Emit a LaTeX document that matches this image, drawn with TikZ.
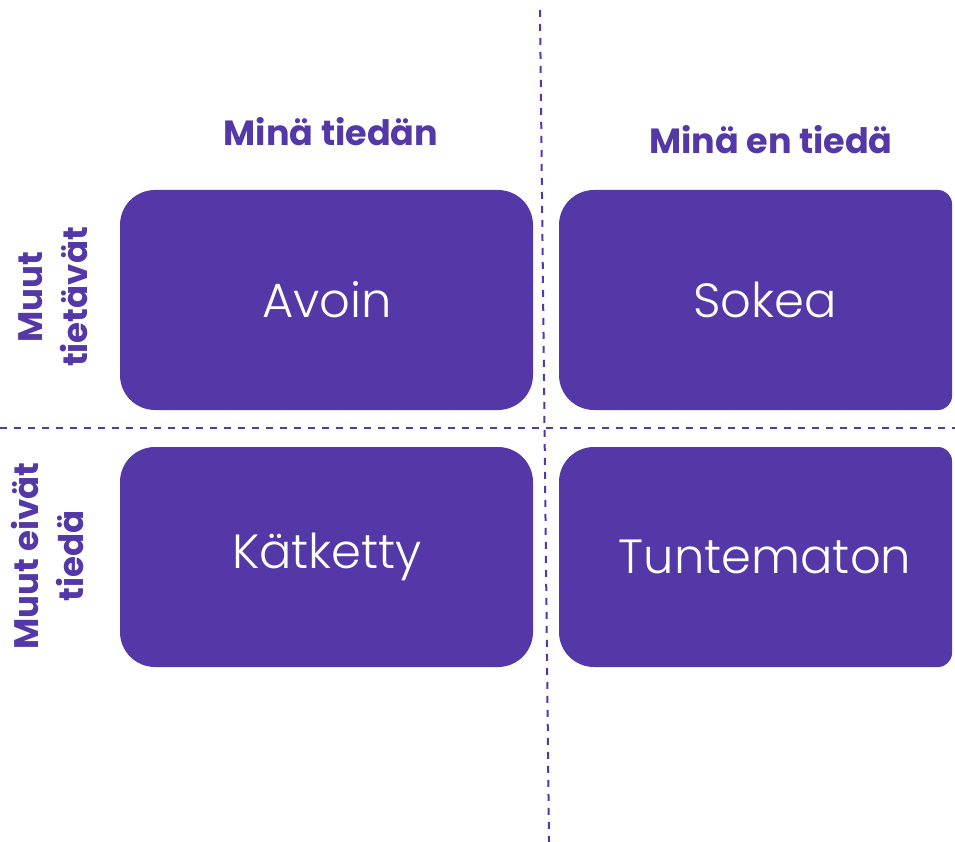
\documentclass[tikz,border=0pt]{standalone}
\usepackage{fontspec}
\setmainfont{Poppins}
\IfFontExistsTF{Poppins Light}{\newfontfamily\lightfont{Poppins Light}}{\newfontfamily\lightfont{Poppins}}
\definecolor{purp}{RGB}{84,56,167}
\newcommand\rightboxpath{(594,190) -- (938,190) .. controls (945.7,190) and (952,196.3) .. (952,204) -- (952,396) .. controls (952,403.7) and (945.7,410) .. (938,410) -- (594,410) .. controls (574.7,410) and (559,394.3) .. (559,375) -- (559,225) .. controls (559,205.7) and (574.7,190) .. (594,190) -- cycle}
\begin{document}
\begin{tikzpicture}[x=1pt,y=-1pt,
  boxfill/.style={fill=purp},
  boxtext/.style={text=white, font=\lightfont\fontsize{48}{52}\selectfont, inner sep=0pt},
  head/.style={text=purp, font=\bfseries\fontsize{35}{40}\selectfont, inner sep=0pt},
  side/.style={text=purp, font=\bfseries\fontsize{34}{45}\selectfont, rotate=90, align=center, inner sep=0pt},
  divider/.style={draw=purp, line width=2pt, dash pattern=on 7pt off 7pt}]
\useasboundingbox (0,0) rectangle (955,842);
% boxes
\fill[boxfill, rounded corners=35pt] (120,190) rectangle (533,410);
\fill[boxfill, rounded corners=35pt] (120,447) rectangle (533,667);
\fill[boxfill] \rightboxpath;
\begin{scope}[shift={(0,257)}]
\fill[boxfill] \rightboxpath;
\end{scope}
% dividers
\coordinate (vtop) at (540,10);
\coordinate (vbot) at (549,842);
\coordinate (hl) at (0,428);
\coordinate (hr) at (955,428);
\draw[divider] (vtop) -- (vbot);
\draw[divider] (hl) -- (hr);
% box texts
\node[boxtext] (avoin) at (327,300) {Avoin};
\node[boxtext] (sokea) at (765,300) {Sokea};
\node[boxtext] (katketty) at (327,557) {Kätketty};
\node[boxtext] (tuntematon) at (765,557) {Tuntematon};
% headers
\node[head] (h1) at (331,132) {Minä tiedän};
\node[head] (h2) at (771,140) {Minä en tiedä};
% side labels
\node[side] (s1) at (53,297) {Muut\\tietävät};
\node[side] (s2) at (48,556) {Muut eivät\\tiedä};
\end{tikzpicture}
\end{document}
